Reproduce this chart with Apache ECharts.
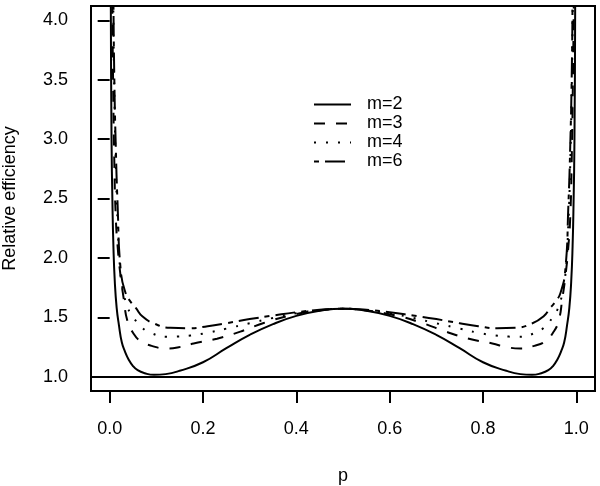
<!DOCTYPE html>
<html>
<head>
<meta charset="utf-8">
<script src="https://cdn.jsdelivr.net/npm/echarts@6/dist/echarts.min.js"></script>
<style>
html,body{margin:0;padding:0;background:#fff;}
#chart{width:600px;height:486px;}
</style>
</head>
<body>
<div id="chart"></div>
<script>
// ---- data ----
var seriesNames = ['m=2', 'm=3', 'm=4', 'm=6'];
var xTicks = [0, 0.2, 0.4, 0.6, 0.8, 1.0];
var yTicks = [1.0, 1.5, 2.0, 2.5, 3.0, 3.5, 4.0];
var refLine = 1.0;

var pM2 = [0.001, 0.0025, 0.004, 0.006, 0.008, 0.011, 0.015, 0.02, 0.026, 0.033, 0.04, 0.05, 0.06, 0.075, 0.095, 0.12, 0.15, 0.2, 0.25, 0.3, 0.35, 0.4, 0.45, 0.5,
           0.55, 0.6, 0.65, 0.7, 0.75, 0.8, 0.85, 0.88, 0.905, 0.925, 0.94, 0.95, 0.96, 0.967, 0.974, 0.98, 0.985, 0.989, 0.992, 0.994, 0.996, 0.9975, 0.999];
var vM2 = [6.0, 4.1, 3.0, 2.45, 2.1, 1.8, 1.58, 1.43, 1.29, 1.21, 1.15, 1.09, 1.055, 1.03, 1.016, 1.022, 1.05, 1.122, 1.24, 1.352, 1.443, 1.512, 1.555, 1.573,
           1.555, 1.512, 1.443, 1.352, 1.24, 1.122, 1.05, 1.022, 1.016, 1.03, 1.055, 1.09, 1.15, 1.21, 1.29, 1.43, 1.58, 1.8, 2.1, 2.45, 3.0, 4.1, 6.0];

var pM3 = [0.003, 0.005, 0.007, 0.01, 0.013, 0.017, 0.023, 0.03, 0.038, 0.05, 0.066, 0.09, 0.12, 0.15, 0.18, 0.23, 0.28, 0.33, 0.39, 0.45, 0.5,
           0.55, 0.61, 0.67, 0.72, 0.77, 0.82, 0.85, 0.88, 0.91, 0.934, 0.95, 0.962, 0.97, 0.977, 0.983, 0.987, 0.99, 0.993, 0.995, 0.997];
var vM3 = [6.0, 4.4, 3.6, 2.8, 2.35, 2.1, 1.86, 1.66, 1.47, 1.37, 1.30, 1.26, 1.238, 1.25, 1.28, 1.32, 1.38, 1.452, 1.518, 1.558, 1.573,
           1.558, 1.518, 1.452, 1.38, 1.32, 1.28, 1.25, 1.238, 1.26, 1.30, 1.37, 1.47, 1.66, 1.86, 2.1, 2.35, 2.8, 3.6, 4.4, 6.0];

var pM4 = [0.004, 0.008, 0.01, 0.013, 0.017, 0.023, 0.03, 0.04, 0.049, 0.07, 0.091, 0.123, 0.145, 0.173, 0.21, 0.25, 0.3, 0.35, 0.4, 0.45, 0.5,
           0.55, 0.6, 0.65, 0.7, 0.75, 0.79, 0.827, 0.855, 0.877, 0.909, 0.93, 0.951, 0.96, 0.97, 0.977, 0.983, 0.987, 0.99, 0.992, 0.996];
var vM4 = [6.0, 4.0, 3.4, 2.8, 2.3, 1.88, 1.7, 1.57, 1.509, 1.411, 1.364, 1.336, 1.338, 1.347, 1.37, 1.405, 1.45, 1.495, 1.535, 1.56, 1.573,
           1.56, 1.535, 1.495, 1.45, 1.405, 1.37, 1.347, 1.338, 1.336, 1.364, 1.411, 1.509, 1.57, 1.7, 1.88, 2.3, 2.8, 3.4, 4.0, 6.0];

var pM6 = [0.005, 0.008, 0.01, 0.013, 0.017, 0.0236, 0.034, 0.045, 0.056, 0.07, 0.095, 0.13, 0.17, 0.21, 0.25, 0.3, 0.35, 0.4, 0.45, 0.5,
           0.55, 0.6, 0.65, 0.7, 0.75, 0.79, 0.83, 0.87, 0.905, 0.93, 0.944, 0.955, 0.966, 0.9764, 0.983, 0.987, 0.99, 0.992, 0.995];
var vM6 = [6.0, 4.2, 3.5, 2.95, 2.45, 1.9, 1.705, 1.63, 1.579, 1.509, 1.448, 1.412, 1.408, 1.425, 1.45, 1.485, 1.515, 1.543, 1.563, 1.573,
           1.563, 1.543, 1.515, 1.485, 1.45, 1.425, 1.408, 1.412, 1.448, 1.509, 1.579, 1.63, 1.705, 1.9, 2.45, 2.95, 3.5, 4.2, 6.0];

// ---- build chart ----
function pairs(px, vy) { return px.map(function (p, i) { return [p, vy[i]]; }); }
var FONT = '"Liberation Sans", Arial, Helvetica, sans-serif';
var dashTypes = ['solid', [11, 11], [2, 10], [5, 6, 20, 6]];
var dataSets = [pairs(pM2, vM2), pairs(pM3, vM3), pairs(pM4, vM4), pairs(pM6, vM6)];

var series = seriesNames.map(function (name, i) {
  var s = {
    name: name,
    type: 'line',
    data: dataSets[i],
    showSymbol: false,
    symbol: 'none',
    smooth: 0.5,
    clip: true,
    lineStyle: { color: '#000', width: 2, type: dashTypes[i] },
    itemStyle: { color: '#000' },
    z: 3
  };
  if (i === 0) {
    s.markLine = {
      silent: true,
      symbol: ['none', 'none'],
      label: { show: false },
      lineStyle: { color: '#000', width: 2, type: 'solid' },
      data: [{ yAxis: refLine }]
    };
  }
  return s;
});

var chart = echarts.init(document.getElementById('chart'), null, { renderer: 'canvas' });
chart.setOption({
  animation: false,
  backgroundColor: '#fff',
  textStyle: { fontFamily: FONT },
  grid: { left: 91, right: 5, top: 6, bottom: 95, containLabel: false, outerBoundsMode: 'none',
          show: true, borderColor: '#000', borderWidth: 2, backgroundColor: 'transparent' },
  legend: {
    orient: 'vertical',
    left: 313,
    top: 95,
    padding: 0,
    itemWidth: 37,
    itemHeight: 14,
    itemGap: 0,
    itemStyle: { color: 'transparent', borderColor: 'transparent', borderWidth: 0 },
    textStyle: { fontFamily: FONT, fontSize: 18, lineHeight: 19, color: '#000', padding: [0, 0, 0, 11] },
    data: seriesNames
  },
  xAxis: {
    type: 'value',
    min: -0.04,
    max: 1.04,
    name: 'p',
    nameLocation: 'middle',
    nameGap: 76,
    nameTextStyle: { fontFamily: FONT, fontSize: 18, color: '#000' },
    axisLine: { show: false },
    splitLine: { show: false },
    axisTick: { show: true, customValues: xTicks, length: 12, lineStyle: { color: '#000', width: 2 } },
    axisLabel: { customValues: xTicks, margin: 29, fontFamily: FONT, fontSize: 18, color: '#000',
      formatter: function (v) { return v.toFixed(1); } }
  },
  yAxis: {
    type: 'value',
    min: 0.88,
    max: 4.12,
    name: 'Relative efficiency',
    nameLocation: 'middle',
    nameGap: 72,
    nameRotate: 90,
    nameTextStyle: { fontFamily: FONT, fontSize: 18, color: '#000' },
    axisLine: { show: false },
    splitLine: { show: false },
    axisTick: { show: true, customValues: yTicks, length: 12, lineStyle: { color: '#000', width: 2 } },
    axisLabel: { customValues: yTicks, margin: 23, fontFamily: FONT, fontSize: 18, color: '#000',
      formatter: function (v) { return v.toFixed(1); } }
  },
  series: series
});
</script>
</body>
</html>
